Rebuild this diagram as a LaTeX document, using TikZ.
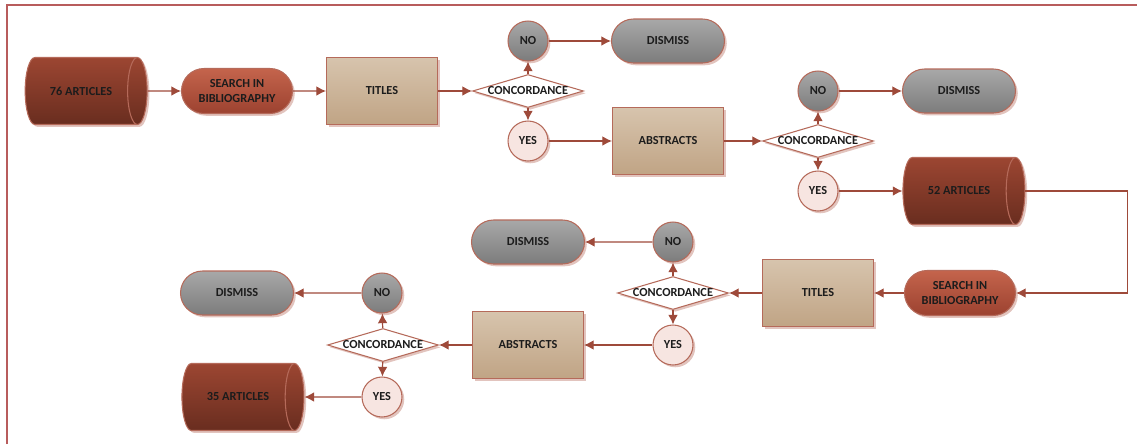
\documentclass[tikz,border=0pt]{standalone}
\usepackage{fontspec}
\setmainfont{Carlito}
\usetikzlibrary{shapes.geometric,shapes.misc,shadows,arrows.meta}
\definecolor{linec}{HTML}{9E4A3A}
\definecolor{edgec}{HTML}{B56A5A}
\definecolor{framec}{HTML}{B85C5C}
\definecolor{shadowc}{HTML}{E2C4BE}
\definecolor{txtc}{HTML}{1C1C1C}
\tikzset{
  base/.style={draw=edgec,line width=0.6pt,align=center,inner sep=0pt,text=txtc,
    font=\fontsize{7}{8}\selectfont\bfseries,
    drop shadow={shadow xshift=1.3pt,shadow yshift=-1.3pt,fill=shadowc,opacity=1}},
  store/.style={base,cylinder,aspect=2.3,minimum width=1.34cm,minimum height=2.44cm,
    top color=HTMLa,bottom color=HTMLb},
  search/.style={base,rounded rectangle,minimum width=2.22cm,minimum height=0.9cm,
    top color=HTMLc,bottom color=HTMLd},
  stage/.style={base,rectangle,minimum width=2.22cm,minimum height=1.34cm,
    top color=HTMLe,bottom color=HTMLf},
  check/.style={base,diamond,aspect=3.4,minimum width=2.22cm,minimum height=0.66cm,
    fill=white},
  nobub/.style={base,circle,minimum size=0.8cm,top color=HTMLg,bottom color=HTMLh},
  yesbub/.style={base,circle,minimum size=0.8cm,fill=HTMLi},
  drop/.style={base,rounded rectangle,minimum width=2.26cm,minimum height=0.88cm,
    top color=HTMLg,bottom color=HTMLh},
  flow/.style={->,draw=linec,line width=0.7pt}
}
\definecolor{HTMLa}{HTML}{9C4632}
\definecolor{HTMLb}{HTML}{692D1F}
\definecolor{HTMLc}{HTML}{C4644C}
\definecolor{HTMLd}{HTML}{9C4230}
\definecolor{HTMLe}{HTML}{D7C4AD}
\definecolor{HTMLf}{HTML}{C0A485}
\definecolor{HTMLg}{HTML}{A8A8A8}
\definecolor{HTMLh}{HTML}{7C7C7C}
\definecolor{HTMLi}{HTML}{F7E5E1}
\begin{document}
\begin{tikzpicture}[>={Latex[length=5.5pt,width=5.5pt]},x=0.02cm,y=-0.02cm]
\useasboundingbox (0,0) rectangle (1137,444);
\draw[framec,line width=0.8pt] (7,444) -- (7,5) -- (1137,5);
% first pass
\node[store]  (a1)  at (81,91)   {76 ARTICLES};
\node[search] (b1)  at (237,91)  {SEARCH IN\\BIBLIOGRAPHY};
\node[stage]  (t1)  at (382,91)  {TITLES};
\node[check]  (c1)  at (528,91)  {CONCORDANCE};
\node[nobub]  (n1)  at (528,41)  {NO};
\node[drop]   (d1)  at (668,41)  {DISMISS};
\node[yesbub] (y1)  at (528,141) {YES};
\node[stage]  (ab1) at (668,141) {ABSTRACTS};
\node[check]  (c2)  at (818,141) {CONCORDANCE};
\node[nobub]  (n2)  at (818,91)  {NO};
\node[drop]   (d2)  at (959,91)  {DISMISS};
\node[yesbub] (y2)  at (818,191) {YES};
\node[store]  (a2)  at (959,191) {52 ARTICLES};
% second pass
\node[search] (b2)  at (960,293) {SEARCH IN\\BIBLIOGRAPHY};
\node[stage]  (t2)  at (818,293) {TITLES};
\node[check]  (c3)  at (673,293) {CONCORDANCE};
\node[nobub]  (n3)  at (673,242) {NO};
\node[drop]   (d3)  at (528,242) {DISMISS};
\node[yesbub] (y3)  at (673,345) {YES};
\node[stage]  (ab2) at (528,345) {ABSTRACTS};
\node[check]  (c4)  at (383,345) {CONCORDANCE};
\node[nobub]  (n4)  at (382,293) {NO};
\node[drop]   (d4)  at (237,293) {DISMISS};
\node[yesbub] (y4)  at (382,397) {YES};
\node[store]  (a3)  at (238,397) {35 ARTICLES};
\draw[flow] (a1) -- (b1);
\draw[flow] (b1) -- (t1);
\draw[flow] (t1) -- (c1);
\draw[flow] (c1) -- (n1);
\draw[flow] (n1) -- (d1);
\draw[flow] (c1) -- (y1);
\draw[flow] (y1) -- (ab1);
\draw[flow] (ab1) -- (c2);
\draw[flow] (c2) -- (n2);
\draw[flow] (n2) -- (d2);
\draw[flow] (c2) -- (y2);
\draw[flow] (y2) -- (a2);
\draw[flow] (a2.east) -- ++(102,0) |- (b2.east);
\draw[flow] (b2) -- (t2);
\draw[flow] (t2) -- (c3);
\draw[flow] (c3) -- (n3);
\draw[flow] (n3) -- (d3);
\draw[flow] (c3) -- (y3);
\draw[flow] (y3) -- (ab2);
\draw[flow] (ab2) -- (c4);
\draw[flow] (c4) -- (n4);
\draw[flow] (n4) -- (d4);
\draw[flow] (c4) -- (y4);
\draw[flow] (y4) -- (a3);
\end{tikzpicture}
\end{document}
